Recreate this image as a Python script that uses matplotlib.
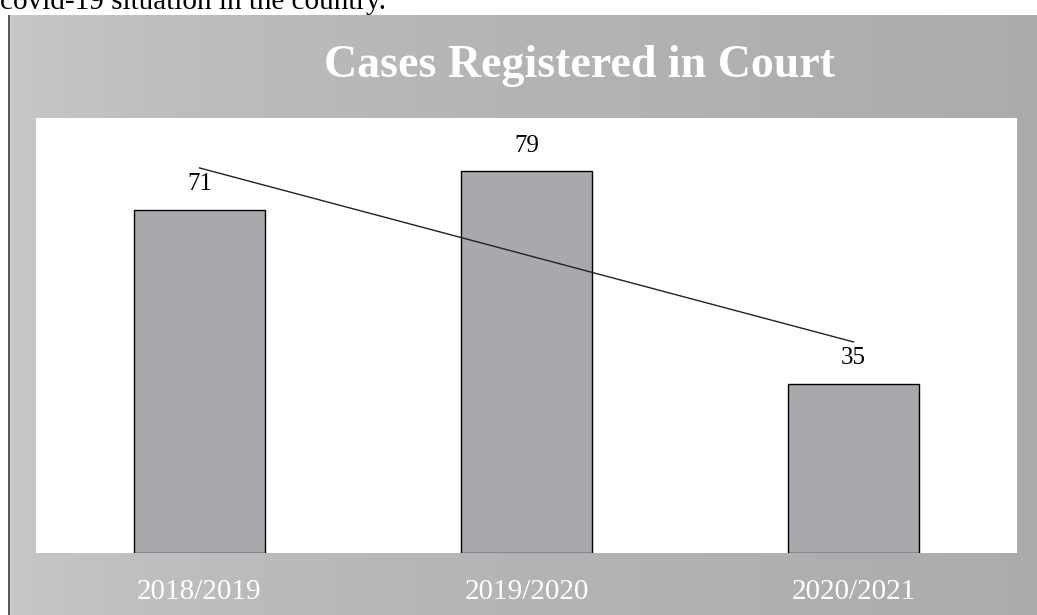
import numpy as np
import matplotlib
matplotlib.use("Agg")
import matplotlib.pyplot as plt

# --- data ---
periods = ["2018/2019", "2019/2020", "2020/2021"]
cases = [71, 79, 35]

W, H = 1037, 615
fig = plt.figure(figsize=(W / 100, H / 100), dpi=100)
fig.patch.set_facecolor("white")

# gray scanned panel behind the chart (lighter on the left)
bg = fig.add_axes([8 / W, 0, 1 - 8 / W, (H - 15) / H], zorder=0)
grad = np.linspace(0, 1, 256)
shade = 0.79 - 0.12 * np.sqrt(grad)
bg.imshow(np.tile(shade, (2, 1)), cmap="gray", vmin=0, vmax=1,
          aspect="auto", extent=[0, 1, 0, 1])
bg.axvline(0.001, color="#444444", lw=1.2)
bg.axis("off")

# partial sentence from the page above the chart
fig.text(0, 1 - 9 / H, "covid-19 situation in the country.",
         fontsize=21, family="Liberation Serif", color="black",
         va="baseline", ha="left")

fig.text(580 / W, 1 - 66 / H, "Cases Registered in Court",
         fontsize=33, fontweight="bold", family="Liberation Serif",
         color="white", ha="center", va="center")

# white plot area
ax = fig.add_axes([36 / W, (H - 553) / H, (1017 - 36) / W, (553 - 118) / H], zorder=1)
ax.set_facecolor("white")
x = np.arange(len(periods))
ax.bar(x, cases, width=0.4, color="#a9a9ad", edgecolor="black", linewidth=1)

for xi, v in zip(x, cases):
    ax.text(xi, v + 3, str(v), ha="center", va="bottom",
            fontsize=18, family="Liberation Serif", color="black")

# linear trendline
slope, icpt = np.polyfit(x, cases, 1)
ax.plot(x, slope * x + icpt, color="#222222", lw=1)

ax.set_xlim(-0.5, 2.5)
ax.set_ylim(0, 90)
ax.set_yticks([])
ax.set_xticks(x)
ax.set_xticklabels(periods, fontsize=21, family="Liberation Serif", color="white")
ax.tick_params(axis="x", length=0, pad=19)
for s in ax.spines.values():
    s.set_visible(False)

fig.savefig("out.png", dpi=100)
